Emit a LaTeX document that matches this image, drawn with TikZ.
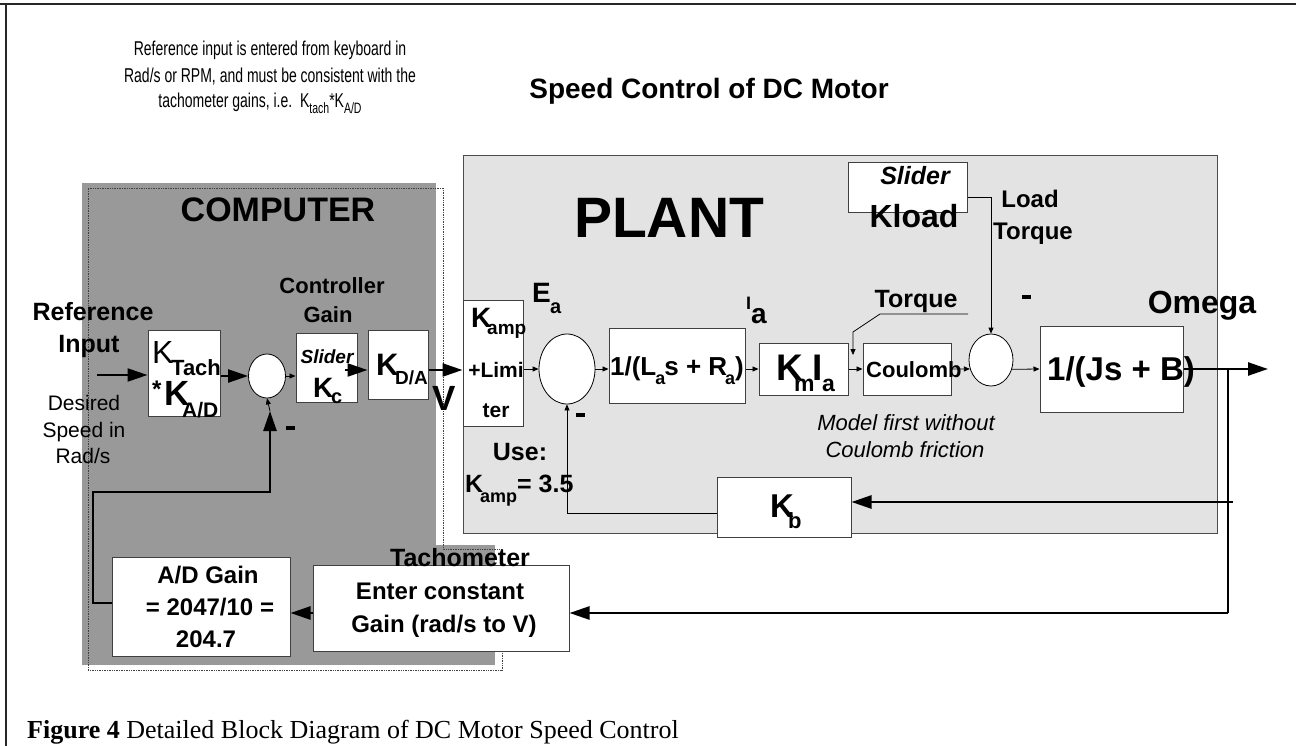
\documentclass[tikz,border=0pt]{standalone}
\usepackage{fontspec}
\setmainfont{Liberation Sans}
\newfontfamily\narrowf[FakeStretch=0.70]{Liberation Sans}
\newfontfamily\seriff{Liberation Serif}
\usetikzlibrary{arrows.meta,calc,shapes.geometric}
\newcommand{\myfs}[1]{\fontsize{#1}{#1}\selectfont}
\newcommand{\sbs}[3]{\raisebox{-#1pt}{\myfs{#2}#3}}
\definecolor{compgray}{HTML}{999999}
\definecolor{plantgray}{HTML}{E3E3E3}
\definecolor{edgegray}{HTML}{404040}
\begin{document}
\begin{tikzpicture}[x=1pt,y=-1pt,
  txt/.style={inner sep=0pt, anchor=base},
  txw/.style={inner sep=0pt, anchor=base west},
  blk/.style={draw=edgegray, line width=1pt, fill=white, inner sep=0pt},
  sumc/.style={ellipse, draw=black, line width=0.8pt, fill=white, inner sep=0pt},
  thinarrow/.style={draw=black, line width=0.8pt, -{Triangle[length=6pt,width=5pt]}},
  bigarrow/.style={draw=black, line width=2.5pt, -{Triangle[length=20pt,width=13pt]}},
  dashmark/.style={fill=black, inner sep=0pt, minimum width=9pt, minimum height=3.5pt},
]
\useasboundingbox (0,0) rectangle (1296,746);
\fill[white] (0,0) rectangle (1296,746);
% frame
\draw[line width=1.5pt, black!85] (0,4) -- (1296,4);
\draw[line width=1.5pt, black!85] (6,4) -- (6,746);

% top text
\node[txt, font=\narrowf\myfs{20}] (t1) at (270,56) {Reference input is entered from keyboard in};
\node[txt, font=\narrowf\myfs{20}] (t2) at (270,83) {Rad/s or RPM, and must be consistent with the};
\node[txt, font=\narrowf\myfs{20}] (t3) at (260,108) {tachometer gains, i.e.\ \ K\sbs{6}{15}{tach}*K\sbs{6}{15}{A/D}};
\node[txt, font=\bfseries\myfs{28}] (title) at (709,99) {Speed Control of DC Motor};

% computer area
\fill[compgray] (82,183) rectangle (436,665);
\fill[compgray] (436,545) rectangle (495,665);
\draw[densely dotted, line width=0.7pt, black!75] (88,188) -- (443,188) -- (443,549) -- (502,549) -- (502,670) -- (88,670) -- cycle;

% plant area
\draw[fill=plantgray, draw=black!70, line width=1pt] (463,156) rectangle (1217,533);

\node[txt, font=\bfseries\myfs{34}] (comp) at (278,222) {COMPUTER};
\node[txt, font=\bfseries\myfs{57}] (plant) at (669,238) {PLANT};

% reference labels
\node[txt, font=\bfseries\myfs{25}] (ref1) at (93,320) {Reference};
\node[txt, font=\bfseries\myfs{25}] (ref2) at (89,352) {Input};
\node[txt, font=\myfs{21}] (des1) at (84,410) {Desired};
\node[txt, font=\myfs{21}] (des2) at (84,437) {Speed in};
\node[txt, font=\myfs{21}] (des3) at (83,463) {Rad/s};
\node[txt, font=\bfseries\myfs{22}] (cg1) at (332,293) {Controller};
\node[txt, font=\bfseries\myfs{22}] (cg2) at (328,322) {Gain};

% Ktach box
\node[blk, minimum width=72pt, minimum height=86pt] (ktach) at (184,373) {};
\node[txw, font=\myfs{32}] (kt1) at (152,363) {K};
\node[txw, font=\bfseries\myfs{22}] (kt2) at (171,375) {Tach};
\node[txw, font=\bfseries\myfs{24}] (kt3) at (152,397) {*};
\node[txw, font=\bfseries\myfs{35}] (kt4) at (164,405) {K};
\node[txw, font=\bfseries\myfs{21}] (kt5) at (182,417) {A/D};

% sum computer
\node[sumc, minimum width=37pt, minimum height=44pt] (c1) at (267,376) {};
\node[dashmark] (m1) at (290,428) {};

% slider Kc
\node[blk, minimum width=61pt, minimum height=69pt] (slid) at (326.5,367.5) {};
\node[txt, font=\bfseries\itshape\myfs{19}] (sl1) at (327,363) {Slider};
\node[txw, font=\bfseries\myfs{28}] (sl2) at (313,397) {K};
\node[txw, font=\bfseries\myfs{20}] (sl3) at (331,403) {c};

% KD/A
\node[blk, minimum width=60pt, minimum height=69pt] (kda) at (398,364.5) {};
\node[txw, font=\bfseries\myfs{31}] (kd1) at (376,375) {K};
\node[txw, font=\bfseries\myfs{19}] (kd2) at (395,384) {D/A};
\node[txt, font=\bfseries\myfs{35}] (vlab) at (444,410) {V};

% A/D gain and tachometer
\node[blk, minimum width=178pt, minimum height=99pt] (ad) at (201,606.5) {};
\node[txt, font=\bfseries\myfs{24}] (ad1) at (208,583) {A/D Gain};
\node[txt, font=\bfseries\myfs{24}] (ad2) at (210,615) {= 2047/10 =};
\node[txt, font=\bfseries\myfs{24}] (ad3) at (206,647) {204.7};
\node[blk, minimum width=256pt, minimum height=86pt] (tach) at (441,608) {};
\node[txt, font=\bfseries\myfs{24}] (ta1) at (440,599) {Enter constant};
\node[txt, font=\bfseries\myfs{24}] (ta2) at (444,632) {Gain (rad/s to V)};
\node[txt, font=\bfseries\myfs{25}] (ta0) at (460,566) {Tachometer};

% Kamp
\node[blk, minimum width=60pt, minimum height=126pt] (kamp) at (493,363) {};
\node[txw, font=\bfseries\myfs{28}] (ka1) at (471,327) {K};
\node[txw, font=\bfseries\myfs{19}] (ka2) at (487,334) {amp};
\node[txt, font=\bfseries\myfs{21}] (ka3) at (496,377) {+Limi};
\node[txt, font=\bfseries\myfs{21}] (ka4) at (496,417) {ter};
\node[txw, font=\bfseries\myfs{28}] (ea1) at (532,302) {E};
\node[txw, font=\bfseries\myfs{20}] (ea2) at (550,313) {a};
\node[txt, font=\bfseries\myfs{25}] (use1) at (520,460) {Use:};
\node[txw, font=\bfseries\myfs{25}] (use2) at (465,492) {K};
\node[txw, font=\bfseries\myfs{18}] (use3) at (480,502) {amp};
\node[txw, font=\bfseries\myfs{25}] (use4) at (517,492) {= 3.5};

% sum 2
\node[sumc, minimum width=56pt, minimum height=70pt] (c2) at (567,369) {};
\node[dashmark] (m2) at (580,415) {};

% 1/(Las+Ra)
\node[blk, minimum width=136pt, minimum height=75pt] (b3) at (677,365.5) {};
\node[txt, font=\bfseries\myfs{26}] (b3t) at (677,375) {1/(L\kern-1pt\sbs{9}{18}{a}\kern-1pt s + R\kern-2pt\sbs{9}{18}{a})};
\node[txw, font=\bfseries\myfs{18}] (ia1) at (746,309) {I};
\node[txw, font=\bfseries\myfs{28}] (ia2) at (751,323) {a};

% Km Ia
\node[blk, minimum width=89pt, minimum height=52pt] (b4) at (803.5,369) {};
\node[txw, font=\bfseries\myfs{37}] (b4a) at (776,380) {K};
\node[txw, font=\bfseries\myfs{23}] (b4b) at (794,391) {m};
\node[txw, font=\bfseries\myfs{37}] (b4c) at (812,380) {I};
\node[txw, font=\bfseries\myfs{23}] (b4d) at (822,391) {a};

% Coulomb
\node[blk, minimum width=88pt, minimum height=52pt] (coul) at (907,369) {};
\node[txw, font=\bfseries\myfs{22}] (coult) at (866,377) {Coulomb};
\node[txt, font=\bfseries\myfs{25}] (torq) at (916,307) {Torque};
\node[txt, font=\itshape\myfs{22}] (mod1) at (906,430) {Model first without};
\node[txt, font=\itshape\myfs{22}] (mod2) at (905,457) {Coulomb friction};

% Slider Kload
\node[blk, minimum width=119pt, minimum height=50pt] (kload) at (907.5,188) {};
\node[txt, font=\bfseries\itshape\myfs{25}] (kl1) at (915,185) {Slider};
\node[txt, font=\bfseries\myfs{32}] (kl2) at (914,228) {Kload};
\node[txt, font=\bfseries\myfs{24}] (lt1) at (1030,208) {Load};
\node[txt, font=\bfseries\myfs{24}] (lt2) at (1033,240) {Torque};

% sum 3 and plant output
\node[sumc, minimum width=44pt, minimum height=52pt] (c3) at (991,360) {};
\node[dashmark] (m3) at (1026,297) {};
\node[txt, font=\bfseries\myfs{32}] (omega) at (1202,313) {Omega};
\node[blk, minimum width=143pt, minimum height=86pt] (b5) at (1111.5,369) {};
\node[txw, font=\bfseries\myfs{33}] (b5t) at (1047,380) {1/(Js + B)};

% Kb
\node[blk, minimum width=134pt, minimum height=60pt] (kb) at (784,507) {};
\node[txw, font=\bfseries\myfs{33}] (kb1) at (770,517) {K};
\node[txw, font=\bfseries\myfs{22}] (kb2) at (788,528) {b};

% caption
\node[txw, font=\seriff\myfs{26}] (cap) at (27,738) {\textbf{Figure 4} Detailed Block Diagram of DC Motor Speed Control};

% coordinates
\coordinate (inA) at (97,375);
\coordinate (L1) at (0,370);
\coordinate (L2) at (0,369);
\coordinate (outE) at (1268,369);
\coordinate (fbTop) at (1228,369);
\coordinate (fbBot) at (1228,613);
\coordinate (fbKb) at (1233,502);
\coordinate (Lb) at (0,513);
\coordinate (LT) at (0,197);
\coordinate (adIn) at (0,603);
\coordinate (fw1) at (93,603);
\coordinate (fw2) at (93,492);
\coordinate (fw3) at (270,492);
\coordinate (fbc) at (270,411);
\coordinate (sk) at (345,370);
\coordinate (tp1) at (968,314);
\coordinate (tp2) at (880,314);
\coordinate (tp3) at (853,332);
\coordinate (tp4) at (853,355);

% computer connectors
\draw[bigarrow, line width=2.2pt] (inA) -- (inA -| ktach.west);
\draw[bigarrow, line width=2.2pt] (c1 -| ktach.east) -- (c1.west);
\draw[thinarrow] (c1.east) -- (c1 -| slid.west);
\draw[bigarrow, line width=2.2pt] (sk) -- (sk -| kda.west);
\draw[bigarrow, line width=2.2pt] (kda.east |- L1) -- (kamp.west |- L1);
\draw[bigarrow] (ad.west |- adIn) -- (fw1) -- (fw2) -- (fw3) -- (fbc);
\draw[thinarrow] (fbc) -- (c1.south);
\draw[bigarrow] (tach.west |- fbBot) -- (ad.east |- fbBot);

% plant connectors
\draw[thinarrow] (kamp.east |- L2) -- (c2.west);
\draw[thinarrow] (c2.east) -- (b3.west |- L2);
\draw[thinarrow] (b3.east |- L2) -- (b4.west |- L2);
\draw[thinarrow] (b4.east |- L2) -- (coul.west |- L2);
\draw[thinarrow] (coul.east |- L2) -- (c3.203.6);
\draw[thinarrow] (c3.336.4) -- (b5.west |- L2);
\draw[thinarrow] (kload.east |- LT) -| (c3.north);
\draw[thinarrow] (tp1) -- (tp2) -- (tp3) -- (tp4);
\draw[thinarrow] (kb.west |- Lb) -| (c2.south);
\draw[bigarrow] (b5.east |- L2) -- (outE);
\draw[line width=2.5pt] (fbTop) -- (fbBot);
\draw[bigarrow] (fbBot) -- (tach.east |- fbBot);
\draw[bigarrow] (fbKb) -- (kb.east |- fbKb);
\end{tikzpicture}
\end{document}
